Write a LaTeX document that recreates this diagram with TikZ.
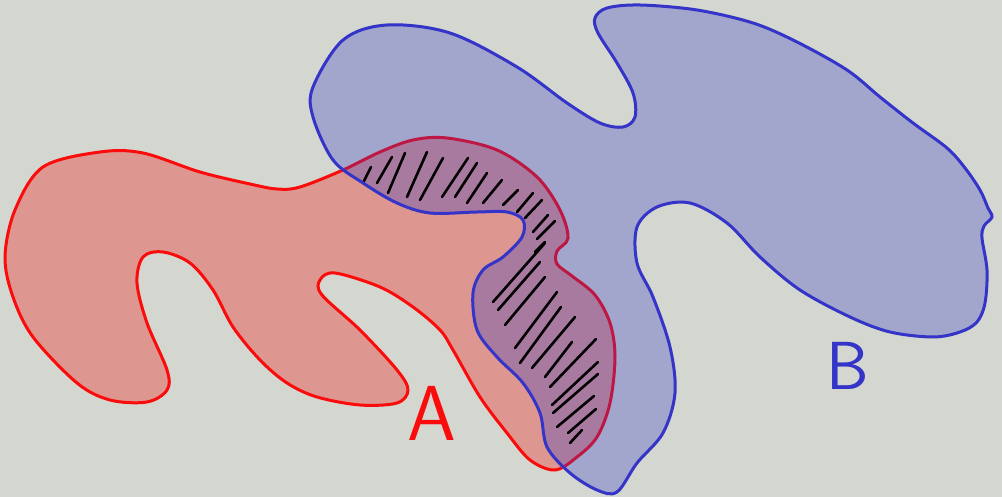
\documentclass[tikz,border=0pt]{standalone}
\usepackage{tikz}
\usetikzlibrary{positioning}

\definecolor{paper}{RGB}{212,215,208}
\definecolor{fillA}{RGB}{222,151,144}
\definecolor{lineA}{RGB}{250,12,12}
\definecolor{fillB}{RGB}{49,55,198}
\definecolor{lineB}{RGB}{52,52,200}

\begin{document}
\begin{tikzpicture}[x=1pt,y=-1pt,
    regionA/.style={fill=fillA,draw=lineA,line width=3pt},
    regionB/.style={fill=fillB,fill opacity=0.3,draw=none},
    edgeB/.style={draw=lineB,line width=3pt},
    hatchline/.style={black,line width=2.6pt,line cap=round},
    letter/.style={inner sep=0pt,anchor=south,font=\sffamily}]
  \useasboundingbox (0,0) rectangle (1002,497);
  \fill[paper] (0,0) rectangle (1002,497);
  % set A
  \path[regionA] plot[smooth cycle,tension=0.55] coordinates {
    (43,167) (100,152) (143,153) (200,172) (250,184) (277,189) (300,187)
    (343,170) (380,152) (413,140) (447,138) (497,150) (537,177) (560,210)
    (568,238) (557,251) (557,264) (572,276) (595,295) (610,323) (615,357)
    (610,403) (597,437) (577,457) (555,470) (530,460) (507,433) (480,397)
    (453,350) (440,330) (413,307) (380,287) (335,273) (320,280) (322,295)
    (360,330) (397,370) (408,390) (397,403) (360,405) (317,397) (287,383)
    (260,360) (233,327) (213,290) (190,263) (163,252) (143,257) (137,283)
    (147,323) (167,370) (167,390) (147,402) (110,400) (77,383) (33,337)
    (13,297) (5,257) (15,210)};
  % set B
  \def\blobB{(313,87) (343,40) (387,25) (450,33) (517,67) (567,103) (600,123)
    (623,127) (635,117) (633,93) (617,63) (598,33) (595,18) (607,8) (640,5)
    (697,10) (753,23) (797,42) (847,70) (880,97) (913,123) (947,148)
    (965,168) (980,190) (988,208) (992,217) (984,226) (982,238) (987,270)
    (985,303) (977,322) (960,332) (933,337) (890,332) (850,317) (800,290)
    (760,257) (727,223) (690,203) (657,207) (637,227) (637,263) (653,297)
    (670,347) (675,393) (663,433) (637,463) (617,492) (597,490) (570,473)
    (547,447) (540,413) (523,383) (497,357) (477,330) (473,293) (483,270)
    (503,257) (522,237) (523,220) (507,212) (477,212) (430,213) (397,203)
    (363,183) (333,160) (313,117)}
  \path[regionB] plot[smooth cycle,tension=0.55] coordinates {\blobB};
  % hatching of the overlap
  \foreach \xa/\ya/\xb/\yb in {
      363/183/371/167, 377/183/392/157, 388/193/405/153, 407/197/427/152,
      420/200/443/158, 442/197/468/158, 455/197/477/163, 467/203/487/173,
      483/203/502/180, 503/205/518/190, 517/212/533/193, 525/218/542/200,
      533/232/548/215, 537/239/555/221, 535/252/545/242,
      493/302/545/243, 498/310/540/262, 505/325/545/277, 515/348/557/292,
      520/363/561/307, 532/368/575/317, 545/377/572/342, 550/387/596/339,
      552/405/598/362, 553/413/598/374, 557/427/594/396, 568/433/596/409,
      570/443/582/430}
    \draw[hatchline] (\xa,\ya) -- (\xb,\yb);
  \path[edgeB] plot[smooth cycle,tension=0.55] coordinates {\blobB};
  % labels
  \node[letter,text=lineA,font=\sffamily\fontsize{78}{78}\selectfont] (labA) at (432,441) {A};
  \node[letter,text=lineB,font=\sffamily\fontsize{68}{68}\selectfont] (labB) at (848,390) {B};
\end{tikzpicture}
\end{document}
